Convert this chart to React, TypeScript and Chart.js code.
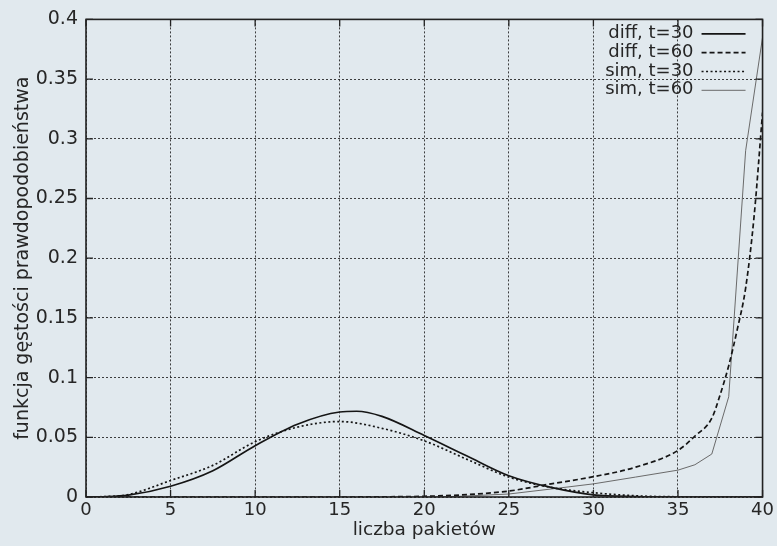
import { useEffect, useRef } from "react";
import { Chart, registerables } from "chart.js";

Chart.register(...registerables);

// ---- data ----
const xTicks = [0, 5, 10, 15, 20, 25, 30, 35, 40];
const xTickLabels = ["0", "5", "10", "15", "20", "25", "30", "35", "40"];
const yTicks = [0, 0.05, 0.1, 0.15, 0.2, 0.25, 0.3, 0.35, 0.4];
const yTickLabels = ["0", "0.05", "0.1", "0.15", "0.2", "0.25", "0.3", "0.35", "0.4"];

const seriesLabels = ["diff, t=30", "diff, t=60", "sim, t=30", "sim, t=60"];

const diff30X = [0, 1, 2.5, 5, 7.5, 10, 12.5, 15, 16, 17.5, 20, 22.5, 25, 27.5, 30, 32.5, 35, 40];
const diff30Y = [0, 0.0002, 0.0015, 0.009, 0.022, 0.043, 0.061, 0.0712, 0.0718, 0.0675, 0.0515, 0.0345, 0.0178, 0.008, 0.0018, 0.0003, 0, 0];

const diff60X = [0, 15, 18, 20, 22.5, 25, 27.5, 30, 32.5, 35, 36, 37, 37.5, 38, 38.5, 39, 39.5, 40];
const diff60Y = [0, 0, 0.0002, 0.0006, 0.002, 0.005, 0.011, 0.017, 0.025, 0.039, 0.051, 0.066, 0.086, 0.11, 0.14, 0.175, 0.235, 0.322];

const sim30X = [0, 1, 2.5, 5, 7.5, 10, 12.5, 15, 17.5, 20, 22.5, 25, 27.5, 30, 32.5, 35, 40];
const sim30Y = [0, 0.0003, 0.002, 0.0138, 0.0265, 0.0463, 0.0585, 0.0632, 0.0575, 0.047, 0.0317, 0.0167, 0.008, 0.0036, 0.001, 0.0002, 0];

const sim60X = [0, 20, 22, 25, 27.5, 30, 32.5, 35, 36, 37, 38, 39, 40];
const sim60Y = [0, 0, 0.0005, 0.0025, 0.0067, 0.011, 0.0167, 0.0225, 0.027, 0.036, 0.084, 0.29, 0.385];

const pts = (xs: number[], ys: number[]) => xs.map((x, i) => ({ x, y: ys[i] }));

const FONT = "'DejaVu Sans', sans-serif";
const TEXT = "#262626";
const BG = "#e1e9ee";

const framePlugin = {
  id: "frame",
  beforeDraw(chart: any) {
    const { ctx, width, height } = chart;
    ctx.save();
    ctx.fillStyle = BG;
    ctx.fillRect(0, 0, width, height);
    ctx.restore();
  },
  afterDatasetsDraw(chart: any) {
    const { ctx, chartArea: ca, scales } = chart;
    ctx.save();
    // inner ticks
    ctx.strokeStyle = "#222";
    ctx.lineWidth = 1.3;
    ctx.setLineDash([]);
    const tl = 7;
    xTicks.forEach((v) => {
      const px = scales.x.getPixelForValue(v);
      ctx.beginPath();
      ctx.moveTo(px, ca.bottom);
      ctx.lineTo(px, ca.bottom - tl);
      ctx.moveTo(px, ca.top);
      ctx.lineTo(px, ca.top + tl);
      ctx.stroke();
    });
    yTicks.forEach((v) => {
      const py = scales.y.getPixelForValue(v);
      ctx.beginPath();
      ctx.moveTo(ca.left, py);
      ctx.lineTo(ca.left + tl, py);
      ctx.moveTo(ca.right, py);
      ctx.lineTo(ca.right - tl, py);
      ctx.stroke();
    });
    // border
    ctx.lineWidth = 1.6;
    ctx.strokeRect(ca.left, ca.top, ca.right - ca.left, ca.bottom - ca.top);

    // legend
    ctx.font = `18px ${FONT}`;
    ctx.textAlign = "right";
    ctx.textBaseline = "alphabetic";
    chart.data.datasets.forEach((ds: any, i: number) => {
      const base = ca.top + 18.5 + i * 18.8;
      ctx.fillStyle = TEXT;
      ctx.fillText(ds.label, ca.right - 69, base);
      ctx.beginPath();
      ctx.strokeStyle = ds.borderColor;
      ctx.lineWidth = ds.borderWidth;
      ctx.setLineDash(ds.borderDash || []);
      ctx.moveTo(ca.right - 61, base - 4);
      ctx.lineTo(ca.right - 17, base - 4);
      ctx.stroke();
    });
    ctx.restore();
  },
};

export default function App() {
  const ref = useRef<HTMLCanvasElement | null>(null);

  useEffect(() => {
    if (!ref.current) return;
    const chart = new Chart(ref.current, {
      type: "line",
      data: {
        datasets: [
          {
            label: seriesLabels[0],
            data: pts(diff30X, diff30Y),
            borderColor: "#151515",
            borderWidth: 1.7,
            pointRadius: 0,
            cubicInterpolationMode: "monotone",
            fill: false,
          },
          {
            label: seriesLabels[1],
            data: pts(diff60X, diff60Y),
            borderColor: "#151515",
            borderWidth: 1.7,
            borderDash: [5, 3],
            pointRadius: 0,
            cubicInterpolationMode: "monotone",
            fill: false,
          },
          {
            label: seriesLabels[2],
            data: pts(sim30X, sim30Y),
            borderColor: "#151515",
            borderWidth: 1.7,
            borderDash: [2, 2.5],
            pointRadius: 0,
            cubicInterpolationMode: "monotone",
            fill: false,
          },
          {
            label: seriesLabels[3],
            data: pts(sim60X, sim60Y),
            borderColor: "#6a6a6a",
            borderWidth: 1,
            pointRadius: 0,
            tension: 0,
            fill: false,
          },
        ],
      } as any,
      options: {
        animation: false,
        responsive: false,
        maintainAspectRatio: false,
        layout: { padding: { top: 19, right: 13, left: 0, bottom: 0 } },
        plugins: { legend: { display: false }, tooltip: { enabled: false } },
        scales: {
          x: {
            type: "linear",
            min: 0,
            max: 40,
            afterBuildTicks: (s: any) => {
              s.ticks = xTicks.map((v) => ({ value: v }));
            },
            afterFit: (s: any) => {
              s.height = 49;
            },
            ticks: {
              autoSkip: false,
              maxRotation: 0,
              padding: 3,
              color: TEXT,
              font: { family: FONT, size: 18 },
              callback: (v: any) => xTickLabels[xTicks.indexOf(Number(v))] ?? "",
            },
            grid: { color: "rgba(30,30,30,0.85)", lineWidth: 1, drawTicks: false },
            border: { display: false, dash: [2, 2] },
            title: {
              display: true,
              text: "liczba pakietów",
              color: TEXT,
              font: { family: FONT, size: 18.5 },
              padding: { top: 0, bottom: 5 },
            },
          },
          y: {
            type: "linear",
            min: 0,
            max: 0.4,
            afterBuildTicks: (s: any) => {
              s.ticks = yTicks.map((v) => ({ value: v }));
            },
            afterFit: (s: any) => {
              s.width = 86;
            },
            ticks: {
              autoSkip: false,
              padding: 8,
              color: TEXT,
              font: { family: FONT, size: 19 },
              callback: (v: any) => {
                const i = yTicks.findIndex((t) => Math.abs(t - Number(v)) < 1e-9);
                return i >= 0 ? yTickLabels[i] : "";
              },
            },
            grid: { color: "rgba(30,30,30,0.85)", lineWidth: 1, drawTicks: false },
            border: { display: false, dash: [2, 2] },
            title: {
              display: true,
              text: "funkcja gęstości prawdopodobieństwa",
              color: TEXT,
              font: { family: FONT, size: 19 },
              padding: { top: 12, bottom: 0 },
            },
          },
        },
      } as any,
      plugins: [framePlugin],
    });
    return () => chart.destroy();
  }, []);

  return (
    <div style={{ position: "absolute", left: 0, top: 0, width: 777, height: 546 }}>
      <canvas ref={ref} width={777} height={546} style={{ display: "block" }} />
    </div>
  );
}
